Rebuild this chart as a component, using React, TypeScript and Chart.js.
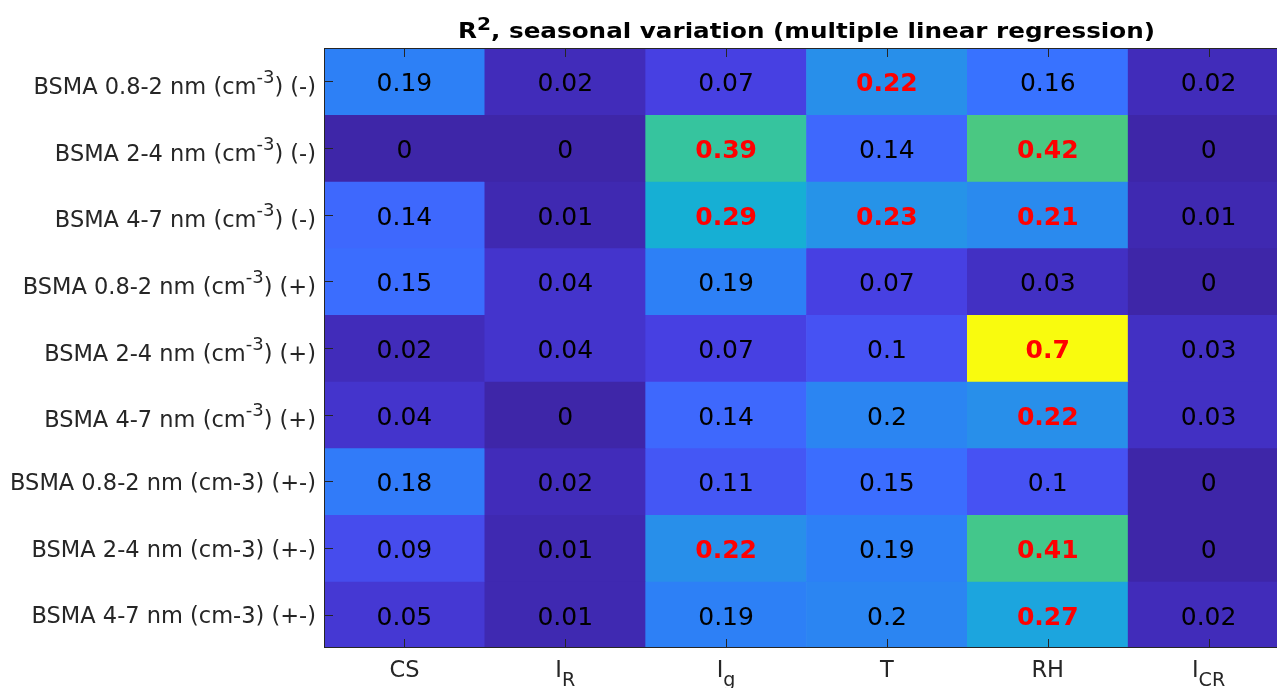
import React, { useEffect, useRef } from "react";
import { Chart, registerables } from "chart.js";

Chart.register(...registerables);

// ---------- data ----------
const titleText = "R^2, seasonal variation (multiple linear regression)";

const xLabels = ["CS", "I_R", "I_g", "T", "RH", "I_{CR}"];

const yLabels = [
  "BSMA 0.8-2 nm (cm^{-3}) (-)",
  "BSMA 2-4 nm (cm^{-3}) (-)",
  "BSMA 4-7 nm (cm^{-3}) (-)",
  "BSMA 0.8-2 nm (cm^{-3}) (+)",
  "BSMA 2-4 nm (cm^{-3}) (+)",
  "BSMA 4-7 nm (cm^{-3}) (+)",
  "BSMA 0.8-2 nm (cm-3) (+-)",
  "BSMA 2-4 nm (cm-3) (+-)",
  "BSMA 4-7 nm (cm-3) (+-)",
];

const row08Neg = [0.19, 0.02, 0.07, 0.22, 0.16, 0.02];
const row24Neg = [0, 0, 0.39, 0.14, 0.42, 0];
const row47Neg = [0.14, 0.01, 0.29, 0.23, 0.21, 0.01];
const row08Pos = [0.15, 0.04, 0.19, 0.07, 0.03, 0];
const row24Pos = [0.02, 0.04, 0.07, 0.1, 0.7, 0.03];
const row47Pos = [0.04, 0, 0.14, 0.2, 0.22, 0.03];
const row08Both = [0.18, 0.02, 0.11, 0.15, 0.1, 0];
const row24Both = [0.09, 0.01, 0.22, 0.19, 0.41, 0];
const row47Both = [0.05, 0.01, 0.19, 0.2, 0.27, 0.02];

const rows = [row08Neg, row24Neg, row47Neg, row08Pos, row24Pos, row47Pos, row08Both, row24Both, row47Both];

// significant (highlighted in bold red)
const sig08Neg = [false, false, false, true, false, false];
const sig24Neg = [false, false, true, false, true, false];
const sig47Neg = [false, false, true, true, true, false];
const sig08Pos = [false, false, false, false, false, false];
const sig24Pos = [false, false, false, false, true, false];
const sig47Pos = [false, false, false, false, true, false];
const sig08Both = [false, false, false, false, false, false];
const sig24Both = [false, false, true, false, true, false];
const sig47Both = [false, false, false, false, true, false];

const significant = [sig08Neg, sig24Neg, sig47Neg, sig08Pos, sig24Pos, sig47Pos, sig08Both, sig24Both, sig47Both];

const colorMin = 0;
const colorMax = 0.7;

// ---------- colormap (parula-like) ----------
const parulaStops: [number, number[]][] = [
  [0.0, [62, 38, 168]],
  [0.029, [65, 44, 186]],
  [0.057, [68, 52, 204]],
  [0.1, [71, 64, 226]],
  [0.143, [70, 82, 243]],
  [0.2, [62, 104, 253]],
  [0.229, [56, 114, 255]],
  [0.271, [45, 128, 246]],
  [0.314, [40, 143, 234]],
  [0.386, [28, 165, 222]],
  [0.414, [22, 175, 212]],
  [0.557, [54, 196, 158]],
  [0.6, [74, 200, 130]],
  [0.75, [200, 190, 60]],
  [0.85, [252, 190, 60]],
  [0.93, [245, 222, 38]],
  [1.0, [249, 251, 14]],
];

function parula(v: number): string {
  let t = (v - colorMin) / (colorMax - colorMin);
  t = Math.max(0, Math.min(1, t));
  for (let i = 1; i < parulaStops.length; i++) {
    const [t1, c1] = parulaStops[i];
    const [t0, c0] = parulaStops[i - 1];
    if (t <= t1) {
      const f = (t - t0) / (t1 - t0);
      const c = c0.map((a, k) => Math.round(a + (c1[k] - a) * f));
      return `rgb(${c[0]},${c[1]},${c[2]})`;
    }
  }
  const c = parulaStops[parulaStops.length - 1][1];
  return `rgb(${c[0]},${c[1]},${c[2]})`;
}

// ---------- rich text (TeX-like ^{} and _{}) ----------
type Seg = { t: string; m: "n" | "sup" | "sub" };

function parseTex(s: string): Seg[] {
  const segs: Seg[] = [];
  let cur = "";
  let i = 0;
  const push = (t: string, m: Seg["m"]) => {
    if (t) segs.push({ t, m });
  };
  while (i < s.length) {
    const ch = s[i];
    if ((ch === "^" || ch === "_") && i + 1 < s.length) {
      push(cur, "n");
      cur = "";
      const m = ch === "^" ? "sup" : "sub";
      if (s[i + 1] === "{") {
        const j = s.indexOf("}", i + 2);
        push(s.slice(i + 2, j), m);
        i = j + 1;
      } else {
        push(s[i + 1], m);
        i += 2;
      }
    } else {
      cur += ch;
      i++;
    }
  }
  push(cur, "n");
  return segs;
}

type RichOpts = {
  align: "left" | "center" | "right";
  size: number;
  weight: string;
  family: string;
  color: string;
  supScale: number;
  supRise: number;
  subScale: number;
  subDrop: number;
  targetWidth?: number;
};

function drawRich(ctx: CanvasRenderingContext2D, s: string, x: number, y: number, o: RichOpts) {
  const segs = parseTex(s);
  const fontFor = (m: Seg["m"]) => {
    const sz = m === "sup" ? o.size * o.supScale : m === "sub" ? o.size * o.subScale : o.size;
    return `${o.weight} ${sz}px ${o.family}`;
  };
  let total = 0;
  const widths = segs.map((sg) => {
    ctx.font = fontFor(sg.m);
    const w = ctx.measureText(sg.t).width;
    total += w;
    return w;
  });
  const sx = o.targetWidth ? o.targetWidth / total : 1;
  const drawn = total * sx;
  let start = x;
  if (o.align === "center") start = x - drawn / 2;
  else if (o.align === "right") start = x - drawn;
  ctx.save();
  ctx.translate(start, y);
  ctx.scale(sx, 1);
  ctx.fillStyle = o.color;
  ctx.textAlign = "left";
  ctx.textBaseline = "alphabetic";
  let cx = 0;
  segs.forEach((sg, k) => {
    ctx.font = fontFor(sg.m);
    const dy = sg.m === "sup" ? -o.supRise : sg.m === "sub" ? o.subDrop : 0;
    ctx.fillText(sg.t, cx, dy);
    cx += widths[k];
  });
  ctx.restore();
}

const FAMILY = '"DejaVu Sans", sans-serif';
const AXIS_COLOR = "#262626";

const overlayPlugin = {
  id: "heatOverlay",
  afterDraw(chart: any) {
    const ctx: CanvasRenderingContext2D = chart.ctx;
    const a = chart.chartArea;
    const xs = chart.scales.x;
    const ys = chart.scales.y;
    ctx.save();

    // cell values
    ctx.textAlign = "center";
    ctx.textBaseline = "alphabetic";
    rows.forEach((row, r) => {
      const py = ys.getPixelForValue(r);
      row.forEach((v, c) => {
        const px = xs.getPixelForValue(c);
        const isSig = significant[r][c];
        ctx.font = `${isSig ? "bold" : "normal"} 25px ${FAMILY}`;
        ctx.fillStyle = isSig ? "#ff0000" : "#000000";
        ctx.fillText(String(v), px, py + 10);
      });
    });

    // frame
    ctx.strokeStyle = AXIS_COLOR;
    ctx.lineWidth = 1;
    ctx.strokeRect(Math.round(a.left) + 0.5, Math.round(a.top) + 0.5, Math.round(a.right - a.left) - 1, Math.round(a.bottom - a.top) - 1);

    // ticks (inward)
    const tl = 9;
    ctx.beginPath();
    xLabels.forEach((_, c) => {
      const px = Math.round(xs.getPixelForValue(c)) + 0.5;
      ctx.moveTo(px, a.bottom);
      ctx.lineTo(px, a.bottom - tl);
      ctx.moveTo(px, a.top);
      ctx.lineTo(px, a.top + tl);
    });
    yLabels.forEach((_, r) => {
      const py = Math.round(ys.getPixelForValue(r)) + 0.5;
      ctx.moveTo(a.left, py);
      ctx.lineTo(a.left + tl, py);
      ctx.moveTo(a.right, py);
      ctx.lineTo(a.right - tl, py);
    });
    ctx.stroke();

    // y tick labels
    yLabels.forEach((lab, r) => {
      const py = ys.getPixelForValue(r);
      const hasSup = lab.indexOf("^") >= 0;
      drawRich(ctx, lab, a.left - 8, py + 8.5 + (hasSup ? 4.3 : 0), {
        align: "right",
        size: 22.5,
        weight: "normal",
        family: FAMILY,
        color: AXIS_COLOR,
        supScale: 0.8,
        supRise: 11,
        subScale: 0.85,
        subDrop: 9,
      });
    });

    // x tick labels
    xLabels.forEach((lab, c) => {
      const px = xs.getPixelForValue(c);
      drawRich(ctx, lab, px, a.bottom + 29, {
        align: "center",
        size: 22.5,
        weight: "normal",
        family: FAMILY,
        color: AXIS_COLOR,
        supScale: 0.8,
        supRise: 11,
        subScale: 0.85,
        subDrop: 9,
      });
    });

    // title
    drawRich(ctx, titleText, (a.left + a.right) / 2, 37.5, {
      align: "center",
      size: 21.5,
      weight: "bold",
      family: FAMILY,
      color: "#000000",
      supScale: 0.82,
      supRise: 8,
      subScale: 0.85,
      subDrop: 7,
      targetWidth: 697,
    });

    ctx.restore();
  },
};

export default function App() {
  const canvasRef = useRef<HTMLCanvasElement | null>(null);

  useEffect(() => {
    const canvas = canvasRef.current;
    if (!canvas) return;
    const datasets = rows.map((row, r) => ({
      label: yLabels[r],
      data: row.map(() => [r - 0.5, r + 0.5]),
      backgroundColor: row.map((v) => parula(v)),
      borderWidth: 0,
      grouped: false,
      categoryPercentage: 1,
      barPercentage: 1,
    }));
    const chart = new Chart(canvas, {
      type: "bar",
      data: { labels: xLabels, datasets: datasets as any },
      options: {
        responsive: false,
        animation: false,
        devicePixelRatio: 1,
        layout: { padding: { top: 48, left: 0, right: 0, bottom: 0 } },
        plugins: {
          legend: { display: false },
          tooltip: { enabled: false },
          title: { display: false },
        },
        scales: {
          x: {
            type: "category",
            offset: true,
            grid: { display: false },
            border: { display: false },
            ticks: { display: false },
            afterFit: (s: any) => {
              s.height = 40;
            },
          },
          y: {
            type: "linear",
            min: -0.5,
            max: 8.5,
            reverse: true,
            grid: { display: false },
            border: { display: false },
            ticks: { display: false },
            afterFit: (s: any) => {
              s.width = 324;
            },
          },
        },
      } as any,
      plugins: [overlayPlugin],
    });
    return () => chart.destroy();
  }, []);

  return (
    <div
      style={{
        position: "fixed",
        left: 0,
        top: 0,
        width: 1277,
        height: 688,
        overflow: "hidden",
        background: "#ffffff",
      }}
    >
      <canvas ref={canvasRef} width={1289} height={688} style={{ display: "block" }} />
    </div>
  );
}
